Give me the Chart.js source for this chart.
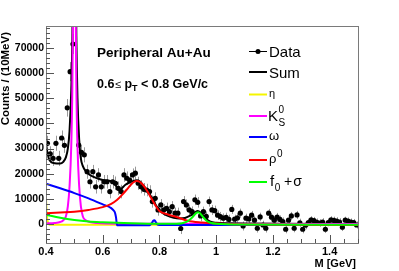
<!DOCTYPE html>
<html>
<head>
<meta charset="utf-8">
<script src="https://cdn.jsdelivr.net/npm/chart.js@4.4.0/dist/chart.umd.min.js"></script>
<style>
  html, body { margin: 0; padding: 0; background: #fff; }
  #chart { display: block; }
</style>
</head>
<body>
<canvas id="chart" width="399" height="271"></canvas>
<script>
    // Histogram bins (GeV), counts per 10 MeV and their errors
    var massBins = [
        0.405, 0.415, 0.425, 0.435, 0.445, 0.455, 0.465, 0.475, 0.485, 0.495,
        0.505, 0.515, 0.525, 0.535, 0.545, 0.555, 0.565, 0.575, 0.585, 0.595,
        0.605, 0.615, 0.625, 0.635, 0.645, 0.655, 0.665, 0.675, 0.685, 0.695,
        0.705, 0.715, 0.725, 0.735, 0.745, 0.755, 0.765, 0.775, 0.785, 0.795,
        0.805, 0.815, 0.825, 0.835, 0.845, 0.855, 0.865, 0.875, 0.885, 0.895,
        0.905, 0.915, 0.925, 0.935, 0.945, 0.955, 0.965, 0.975, 0.985, 0.995,
        1.005, 1.015, 1.025, 1.035, 1.045, 1.055, 1.065, 1.075, 1.085, 1.095,
        1.105, 1.115, 1.125, 1.135, 1.145, 1.155, 1.165, 1.175, 1.185, 1.195,
        1.205, 1.215, 1.225, 1.235, 1.245, 1.255, 1.265, 1.275, 1.285, 1.295,
        1.305, 1.315, 1.325, 1.335, 1.345, 1.355, 1.365, 1.375, 1.385, 1.395,
        1.405, 1.415, 1.425, 1.435, 1.445, 1.455, 1.465, 1.475, 1.485, 1.495
    ];
    var counts = [
        32100, 27900, 26100, 32100, 26100, 34200, 31300, 46200, 60600, 71600,
        92000, 31400, 28500, 27500, 20800, 16800, 20800, 14800, 19500, 14800,
        16800, 16800, 12900, 16800, 16200, 14200, 12900, 19500, 18200, 17500,
        19500, 20200, 16200, 14800, 13800, 13500, 12900, 8900, 10200, 5600,
        7600, 5600, 6200, 4900, 6900, 4300, 4300, -1800, 8900, 7600,
        5600, 4900, 9600, 8600, 3200, 4900, 3000, 8900, 5600, 5300,
        3500, 2900, 2300, 2600, 1800, 5800, 1900, 2400, 4300, -800,
        2300, 2000, 3500, 1500, -1700, 2800, -400, -1700, 4300, 2700,
        1500, 2700, 1800, 1000, -2100, 1500, 3200, -1700, 3600, 500,
        -2100, -500, 600, 1600, 1300, 700, 400, 800, -2100, 600,
        1600, 1400, 1200, 800, -1300, 1500, 1200, 800, 600, -400
    ];
    var countErr = [
        3000, 3000, 3000, 3000, 3000, 3000, 3000, 3500, 3800, 4000,
        4000, 3200, 3000, 3000, 2800, 2700, 2700, 2700, 2700, 2700,
        2700, 2700, 2700, 2700, 2700, 2700, 2700, 2700, 2700, 2700,
        2600, 2600, 2600, 2600, 2500, 2500, 2500, 2400, 2400, 2300,
        2300, 2300, 2300, 2200, 2200, 2200, 2200, 2200, 2200, 2200,
        2100, 2100, 2100, 2100, 2100, 2000, 2000, 2000, 2000, 2000,
        1900, 1900, 1900, 1900, 1900, 1800, 1800, 1800, 1800, 1800,
        1800, 1800, 1700, 1700, 1700, 1700, 1700, 1700, 1700, 1700,
        1700, 1700, 1600, 1600, 1600, 1600, 1600, 1600, 1600, 1600,
        1600, 1600, 1500, 1500, 1500, 1500, 1500, 1500, 1500, 1500,
        1500, 1500, 1500, 1500, 1500, 1400, 1400, 1400, 1400, 1400
    ];

    // Fit curves
    var sumX = [0.40, 0.405, 0.41, 0.42, 0.43, 0.45, 0.46, 0.47, 0.477, 0.483, 0.489, 0.493, 0.497, 0.50, 0.503, 0.507, 0.511, 0.517, 0.523, 0.53, 0.54, 0.555, 0.58, 0.60, 0.63, 0.64, 0.648, 0.655, 0.662, 0.67, 0.68, 0.70, 0.72, 0.73, 0.75, 0.77, 0.79, 0.81, 0.83, 0.85, 0.87, 0.89, 0.91, 0.925, 0.935, 0.945, 0.955, 0.965, 0.98, 1.00, 1.05, 1.10, 1.50];
    var sumY = [31000, 28500, 26000, 24500, 24200, 24100, 24600, 26500, 30000, 37000, 53000, 75000, 130000, 170000, 130000, 75000, 50000, 33500, 26000, 23000, 21000, 19500, 18200, 17500, 17000, 16300, 15000, 13700, 13500, 14500, 15600, 16800, 17400, 17000, 14300, 11000, 7000, 4500, 3200, 2500, 2200, 2400, 3400, 4600, 5200, 4600, 3300, 2000, 900, 500, 300, 200, 0];

    var etaX = [0.40, 0.402, 0.405, 0.408, 0.412, 0.42, 0.60, 1.00, 1.50];
    var etaY = [10300, 5000, 1500, 300, -200, -300, -300, -300, -300];

    var k0X = [0.40, 0.43, 0.45, 0.46, 0.47, 0.477, 0.483, 0.489, 0.493, 0.497, 0.50, 0.503, 0.507, 0.511, 0.517, 0.523, 0.53, 0.54, 0.555, 0.58, 0.62, 0.70, 1.50];
    var k0Y = [200, 400, 800, 1400, 3000, 7000, 15000, 31000, 55000, 110000, 150000, 110000, 55000, 31000, 15000, 7000, 3000, 1500, 800, 400, 200, 100, 0];

    var omegaX = [0.40, 0.45, 0.50, 0.55, 0.60, 0.63, 0.64, 0.644, 0.647, 0.649, 0.651, 0.66, 0.70, 0.765, 0.772, 0.778, 0.782, 0.786, 0.792, 0.80, 1.50];
    var omegaY = [16000, 14200, 12300, 10200, 7800, 6300, 5200, 4200, 2500, 500, -500, -500, -500, -500, 200, 1300, 1500, 1000, -100, -400, -400];

    var rhoX = [0.40, 0.45, 0.50, 0.55, 0.60, 0.63, 0.65, 0.67, 0.69, 0.70, 0.71, 0.72, 0.73, 0.74, 0.75, 0.76, 0.77, 0.78, 0.80, 0.83, 0.86, 0.90, 0.95, 1.00, 1.10, 1.50];
    var rhoY = [4300, 4600, 4900, 5600, 6700, 8000, 9500, 11800, 14400, 15700, 16700, 17100, 16800, 15800, 14300, 12500, 10500, 8500, 5200, 3800, 2800, 1300, 600, 200, -200, -400];

    var f0X = [0.40, 0.45, 0.50, 0.55, 0.60, 0.70, 0.80, 0.86, 0.88, 0.895, 0.91, 0.92, 0.93, 0.937, 0.945, 0.955, 0.965, 0.98, 1.00, 1.10, 1.50];
    var f0Y = [3700, 2500, 1600, 1000, 700, 300, 100, 100, 300, 800, 2000, 3200, 4400, 4700, 4000, 2600, 1400, 500, 100, -200, -300];

    // Axes
    var xTickValues = [0.4, 0.6, 0.8, 1.0, 1.2, 1.4];
    var xTickLabels = ['0.4', '0.6', '0.8', '1', '1.2', '1.4'];
    var yTickValues = [0, 10000, 20000, 30000, 40000, 50000, 60000, 70000];
    var yTickLabels = ['0', '10000', '20000', '30000', '40000', '50000', '60000', '70000'];

    var FONT = '"Liberation Sans", Arial, Helvetica, sans-serif';

    function toPoints(xs, ys) {
        return xs.map(function(x, i) { return { x: x, y: ys[i] }; });
    }

    function curve(label, xs, ys, color, order) {
        return {
            label: label,
            data: toPoints(xs, ys),
            borderColor: color,
            borderWidth: 2,
            pointRadius: 0,
            fill: false,
            cubicInterpolationMode: 'monotone',
            order: order
        };
    }

    // Gray vertical error bars under the markers
    var errorBarPlugin = {
        id: 'errorBars',
        beforeDatasetsDraw: function(chart) {
            var ctx = chart.ctx;
            var ca = chart.chartArea;
            var xs = chart.scales.x, ys = chart.scales.y;
            ctx.save();
            ctx.beginPath();
            ctx.rect(ca.left, ca.top, ca.right - ca.left, ca.bottom - ca.top);
            ctx.clip();
            ctx.strokeStyle = '#999999';
            ctx.lineWidth = 1;
            massBins.forEach(function(m, i) {
                var px = Math.round(xs.getPixelForValue(m)) + 0.5;
                ctx.beginPath();
                ctx.moveTo(px, ys.getPixelForValue(counts[i] + countErr[i]));
                ctx.lineTo(px, ys.getPixelForValue(counts[i] - countErr[i]));
                ctx.stroke();
            });
            ctx.restore();
        }
    };

    function txt(ctx, s, x, y, size, bold) {
        ctx.font = (bold ? 'bold ' : '') + size + 'px ' + FONT;
        ctx.fillText(s, x, y);
        return x + ctx.measureText(s).width;
    }

    var decorPlugin = {
        id: 'decor',
        afterDraw: function(chart) {
            var ctx = chart.ctx;
            var ca = chart.chartArea;
            var xs = chart.scales.x, ys = chart.scales.y;
            ctx.save();

            // frame
            ctx.strokeStyle = '#7a7a7a';
            ctx.lineWidth = 1;
            ctx.strokeRect(Math.round(ca.left) + 0.5, Math.round(ca.top) + 0.5,
                Math.round(ca.right - ca.left), Math.round(ca.bottom - ca.top));

            // ticks
            ctx.strokeStyle = '#555';
            ctx.beginPath();
            var v, p;
            for (v = -6000; v <= 78000; v += 2000) {
                p = Math.round(ys.getPixelForValue(v)) + 0.5;
                var len = (v % 10000 === 0) ? 8 : 4;
                ctx.moveTo(ca.left, p);
                ctx.lineTo(ca.left + len, p);
            }
            for (v = 0.40; v <= 1.501; v += 0.05) {
                p = Math.round(xs.getPixelForValue(v)) + 0.5;
                var r = Math.round(v * 100) % 20 === 0;
                ctx.moveTo(p, ca.bottom);
                ctx.lineTo(p, ca.bottom - (r ? 8 : 4));
            }
            ctx.stroke();

            // tick labels
            ctx.fillStyle = '#000';
            ctx.font = 'bold 10.5px ' + FONT;
            ctx.textAlign = 'right';
            ctx.textBaseline = 'middle';
            yTickValues.forEach(function(val, i) {
                ctx.fillText(yTickLabels[i], ca.left - 2, ys.getPixelForValue(val));
            });
            ctx.textAlign = 'center';
            ctx.textBaseline = 'top';
            ctx.font = 'bold 11px ' + FONT;
            xTickValues.forEach(function(val, i) {
                ctx.fillText(xTickLabels[i], xs.getPixelForValue(val), ca.bottom + 3);
            });

            // axis titles
            ctx.textAlign = 'right';
            ctx.textBaseline = 'middle';
            ctx.fillText('M [GeV]', 356, 264);
            ctx.save();
            ctx.translate(6, 32);
            ctx.rotate(-Math.PI / 2);
            ctx.font = 'bold 11.5px ' + FONT;
            ctx.fillText('Counts / (10MeV)', 0, 0);
            ctx.restore();

            // header texts
            ctx.textAlign = 'left';
            ctx.textBaseline = 'alphabetic';
            txt(ctx, 'Peripheral Au+Au', 97, 57, 13.5, true);
            var x = txt(ctx, '0.6', 97, 88, 12.5, true);
            x = txt(ctx, '\u2264', x + 0.5, 88, 11, false);
            x = txt(ctx, ' p', x, 88, 12.5, true);
            x = txt(ctx, 'T', x, 91, 9, true);
            txt(ctx, ' < 0.8 GeV/c', x, 88, 12.5, true);

            // legend
            var lx0 = 249, lx1 = 267, tx = 269;
            function legLine(color, y, w) {
                ctx.strokeStyle = color;
                ctx.lineWidth = w;
                ctx.beginPath();
                ctx.moveTo(lx0, y);
                ctx.lineTo(lx1, y);
                ctx.stroke();
            }
            legLine('#000', 51.5, 1);
            ctx.fillStyle = '#000';
            ctx.beginPath();
            ctx.arc(258, 51.5, 2.5, 0, Math.PI * 2);
            ctx.fill();
            txt(ctx, 'Data', tx, 57, 15, false);

            legLine('#000', 72, 2);
            txt(ctx, 'Sum', tx, 77.5, 15, false);

            legLine('#f5f500', 94.5, 2);
            txt(ctx, '\u03b7', tx, 97, 11, false);

            legLine('#ff00ff', 116, 2);
            x = txt(ctx, 'K', tx - 1, 121, 15, false);
            txt(ctx, '0', x + 0.5, 113, 10, false);
            txt(ctx, 'S', x + 0.5, 125.5, 10, false);

            legLine('#0000ff', 137, 2);
            txt(ctx, '\u03c9', tx, 140, 13, false);

            legLine('#ff0000', 160, 2);
            x = txt(ctx, '\u03c1', tx, 163, 13, false);
            txt(ctx, '0', x + 0.5, 157, 10, false);

            legLine('#00ff00', 182, 2);
            x = txt(ctx, 'f', tx + 1, 186, 15, false);
            x = txt(ctx, '0', x + 0.5, 191, 10, false);
            x = txt(ctx, ' +', x, 186, 14, false);
            txt(ctx, '\u03c3', x + 1, 186, 14, false);

            ctx.restore();
        }
    };

    new Chart(document.getElementById('chart'), {
        type: 'line',
        data: {
            datasets: [
                {
                    label: 'Data',
                    data: toPoints(massBins, counts),
                    showLine: false,
                    pointRadius: 2.6,
                    pointBackgroundColor: '#000',
                    pointBorderWidth: 0,
                    borderColor: '#000',
                    order: 10
                },
                curve('Sum', sumX, sumY, '#000000', 9),
                curve('eta', etaX, etaY, '#f5f500', 8),
                curve('K0S', k0X, k0Y, '#ff00ff', 7),
                curve('omega', omegaX, omegaY, '#0000ff', 6),
                curve('rho0', rhoX, rhoY, '#ff0000', 5),
                curve('f0+sigma', f0X, f0Y, '#00ff00', 4)
            ]
        },
        options: {
            responsive: false,
            devicePixelRatio: 1,
            animation: false,
            layout: { padding: { left: 46, right: 41, top: 26, bottom: 28 } },
            plugins: { legend: { display: false }, tooltip: { enabled: false } },
            scales: {
                x: { type: 'linear', min: 0.4, max: 1.5, display: false },
                y: { type: 'linear', min: -7560, max: 78750, display: false }
            }
        },
        plugins: [errorBarPlugin, decorPlugin]
    });
</script>
</body>
</html>
